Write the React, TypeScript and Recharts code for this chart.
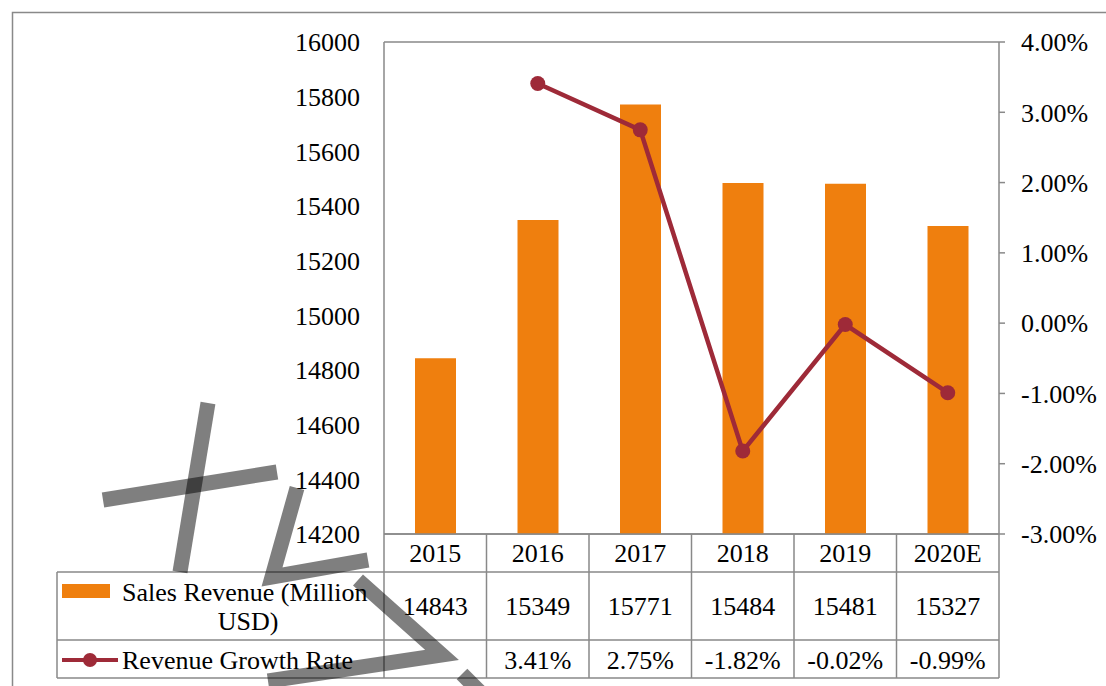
import { ComposedChart, Bar, Line, XAxis, YAxis, CartesianGrid, Customized } from 'recharts';

const years = ['2015', '2016', '2017', '2018', '2019', '2020E'];
const salesRevenue = [14843, 15349, 15771, 15484, 15481, 15327];
const growthRate: (number | null)[] = [null, 3.41, 2.75, -1.82, -0.02, -0.99];
const leftTicks = [14200, 14400, 14600, 14800, 15000, 15200, 15400, 15600, 15800, 16000];
const rightTicks = [-3, -2, -1, 0, 1, 2, 3, 4];

const data = years.map((year, i) => ({
  year,
  sales: salesRevenue[i],
  growth: growthRate[i],
}));

// plot box (fixed by margins + axis widths below)
const W = 1106;
const H = 686;
const PLOT_LEFT = 384;
const PLOT_RIGHT = 999;
const PLOT_BOTTOM = 534;
const ROW1 = 572;
const ROW2 = 640;
const ROW3 = 678;
const TABLE_LEFT = 57;

const GRID = '#898989';
const BAR = '#EF7F0E';
const LINE = '#9E2A38';
const FONT = "'Liberation Serif', 'DejaVu Serif', serif";
const FS = 26;

const fmtPct = (v: number) => `${v.toFixed(2)}%`;

function DataTable() {
  const colW = (PLOT_RIGHT - PLOT_LEFT) / years.length;
  const cols = years.map((_, i) => PLOT_LEFT + i * colW);
  return (
    <g style={{ fontFamily: FONT }} fill="#000">
      {/* outer frame */}
      <rect x={12.5} y={12.5} width={1300} height={900} fill="none" stroke={GRID} strokeWidth={1.5} />
      {/* table rules */}
      {[ROW1, ROW2, ROW3].map((y) => (
        <line key={y} x1={TABLE_LEFT} x2={PLOT_RIGHT} y1={y} y2={y} stroke={GRID} strokeWidth={1.5} />
      ))}
      <line x1={TABLE_LEFT} x2={TABLE_LEFT} y1={ROW1} y2={ROW3} stroke={GRID} strokeWidth={1.5} />
      {[...cols, PLOT_RIGHT].map((x) => (
        <line key={x} x1={x} x2={x} y1={PLOT_BOTTOM} y2={ROW3} stroke={GRID} strokeWidth={1.5} />
      ))}
      {/* legend keys */}
      <rect x={62} y={584} width={48} height={14} fill={BAR} />
      <text x={122} y={592} fontSize={FS} dominantBaseline="central">Sales Revenue (Million</text>
      <text x={248} y={621} fontSize={FS} textAnchor="middle" dominantBaseline="central">USD)</text>
      <line x1={62} x2={118} y1={660} y2={660} stroke={LINE} strokeWidth={4} />
      <circle cx={90} cy={660} r={7} fill={LINE} />
      <text x={122} y={660} fontSize={FS} dominantBaseline="central">Revenue Growth Rate</text>
      {/* values */}
      {salesRevenue.map((v, i) => (
        <text key={'s' + i} x={cols[i] + colW / 2} y={606} fontSize={FS} textAnchor="middle" dominantBaseline="central">
          {v}
        </text>
      ))}
      {growthRate.map((v, i) =>
        v === null ? null : (
          <text key={'g' + i} x={cols[i] + colW / 2} y={660} fontSize={FS} textAnchor="middle" dominantBaseline="central">
            {fmtPct(v)}
          </text>
        )
      )}
      {/* watermark */}
      <g fill="none" stroke="rgba(0,0,0,0.5)" strokeWidth={15} strokeLinejoin="miter">
        <polyline points="208,403 180,572" />
        <polyline points="103,500 277,472" />
        <polyline points="297,488 272,577 368,560" />
        <polyline points="358,580 442,655 268,681" />
        <polyline points="462,674 492,704" />
      </g>
    </g>
  );
}

export default function App() {
  const tick = { fontSize: FS, fill: '#000', fontFamily: FONT };
  return (
    <div style={{ position: 'absolute', left: 0, top: 0, width: W, height: H, background: '#fff', fontFamily: FONT }}>
      <ComposedChart
        width={W}
        height={H}
        data={data}
        margin={{ top: 42, right: 0, bottom: H - ROW1, left: 0 }}
        barCategoryGap="30%"
        style={{ fontFamily: FONT }}
      >
        <CartesianGrid vertical={false} stroke={GRID} strokeWidth={1.5} />
        <XAxis
          dataKey="year"
          height={ROW1 - PLOT_BOTTOM}
          axisLine={{ stroke: GRID, strokeWidth: 1.5 }}
          tickLine={false}
          tick={tick}
          tickMargin={4}
        />
        <YAxis
          yAxisId="left"
          width={PLOT_LEFT}
          domain={[14200, 16000]}
          ticks={leftTicks}
          allowDataOverflow
          axisLine={{ stroke: GRID, strokeWidth: 1.5 }}
          tickLine={false}
          tickSize={0}
          tickMargin={24}
          tick={tick}
        />
        <YAxis
          yAxisId="right"
          orientation="right"
          width={W - PLOT_RIGHT}
          domain={[-3, 4]}
          ticks={rightTicks}
          tickFormatter={fmtPct}
          axisLine={{ stroke: GRID, strokeWidth: 1.5 }}
          tickLine={{ stroke: GRID, strokeWidth: 1.5 }}
          tickSize={6}
          tickMargin={16}
          tick={{ ...tick, textAnchor: 'start' }}
        />
        <Bar yAxisId="left" dataKey="sales" fill={BAR} barSize={41} isAnimationActive={false} />
        <Line
          yAxisId="right"
          dataKey="growth"
          stroke={LINE}
          strokeWidth={4.5}
          dot={{ r: 7.5, fill: LINE, stroke: LINE, strokeWidth: 0 }}
          connectNulls
          isAnimationActive={false}
        />
        <Customized component={DataTable} />
      </ComposedChart>
    </div>
  );
}
